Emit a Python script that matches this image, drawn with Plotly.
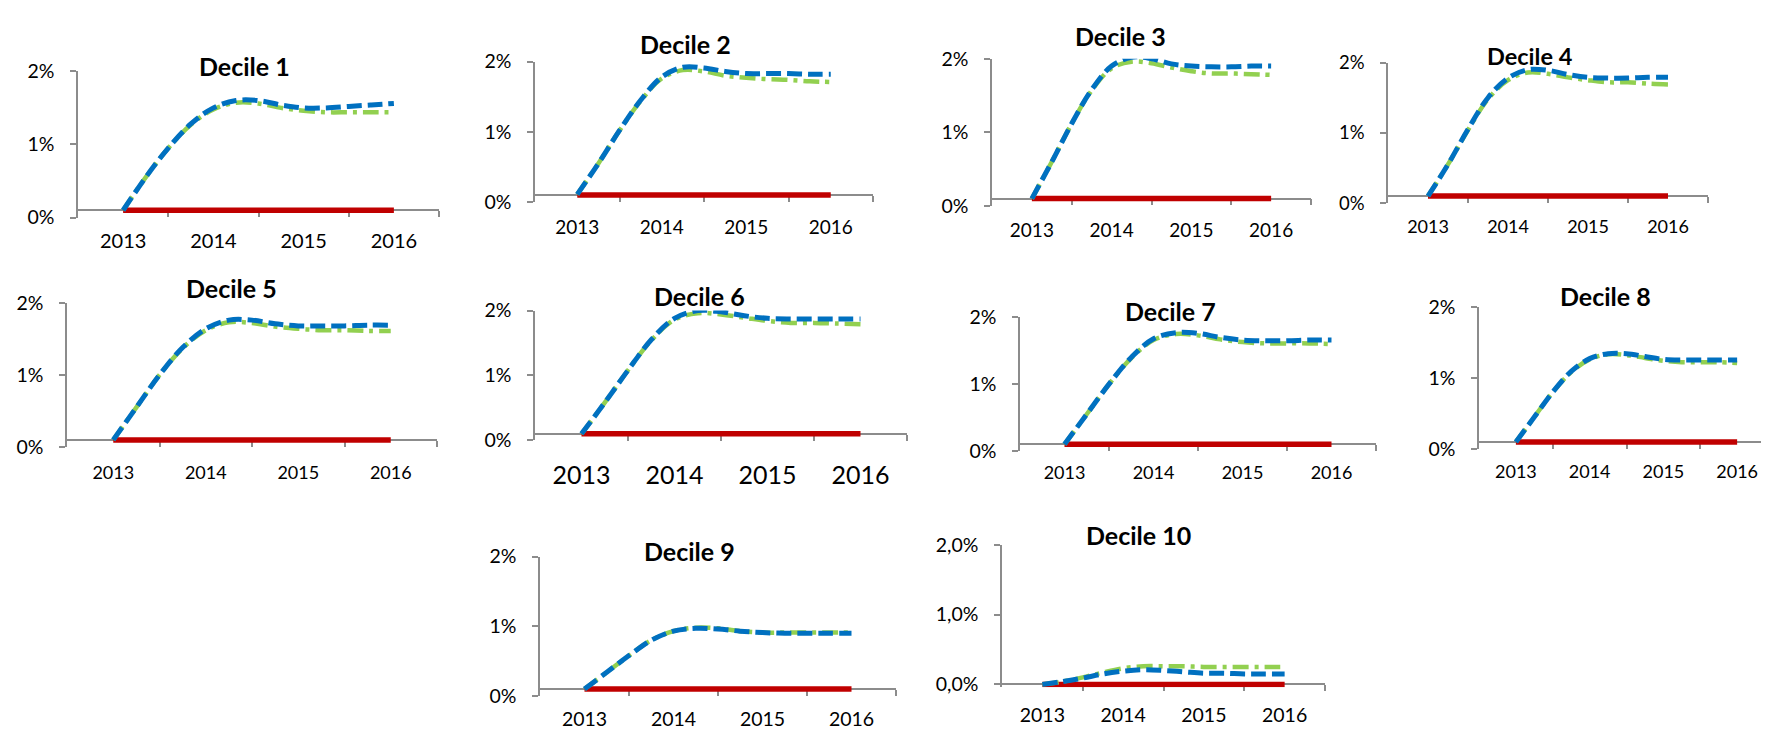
import plotly.graph_objects as go

# ---------------- data (values in %) ----------------
quarters = [2013.0, 2013.25, 2013.5, 2013.75, 2014.0, 2014.25, 2014.5,
            2014.75, 2015.0, 2015.25, 2015.5, 2015.75, 2016.0]
year_labels = ["2013", "2014", "2015", "2016"]
titles = ["Decile 1", "Decile 2", "Decile 3", "Decile 4", "Decile 5",
          "Decile 6", "Decile 7", "Decile 8", "Decile 9", "Decile 10"]

blue_d1 = [0.10, 0.55, 0.95, 1.28, 1.50, 1.60, 1.60, 1.54, 1.50, 1.50, 1.52, 1.54, 1.56]
blue_d2 = [0.11, 0.55, 1.02, 1.45, 1.78, 1.92, 1.91, 1.86, 1.83, 1.83, 1.83, 1.82, 1.82]
blue_d3 = [0.10, 0.60, 1.12, 1.58, 1.90, 2.02, 2.00, 1.93, 1.90, 1.89, 1.89, 1.90, 1.90]
blue_d4 = [0.10, 0.55, 1.05, 1.50, 1.78, 1.90, 1.89, 1.83, 1.79, 1.78, 1.78, 1.79, 1.79]
blue_d5 = [0.10, 0.55, 1.00, 1.38, 1.64, 1.76, 1.76, 1.71, 1.68, 1.68, 1.68, 1.69, 1.69]
blue_d6 = [0.10, 0.58, 1.08, 1.55, 1.88, 2.00, 1.98, 1.92, 1.88, 1.87, 1.87, 1.87, 1.87]
blue_d7 = [0.10, 0.55, 1.00, 1.40, 1.68, 1.77, 1.76, 1.70, 1.66, 1.65, 1.65, 1.66, 1.66]
blue_d8 = [0.10, 0.45, 0.80, 1.09, 1.27, 1.34, 1.34, 1.30, 1.26, 1.25, 1.25, 1.25, 1.25]
blue_d9 = [0.10, 0.34, 0.58, 0.80, 0.93, 0.97, 0.96, 0.93, 0.91, 0.90, 0.90, 0.90, 0.90]
blue_d10 = [0.00, 0.04, 0.09, 0.15, 0.19, 0.21, 0.20, 0.18, 0.16, 0.16, 0.15, 0.15, 0.15]

green_d1 = [0.10, 0.55, 0.95, 1.27, 1.48, 1.57, 1.56, 1.50, 1.46, 1.44, 1.44, 1.44, 1.44]
green_d2 = [0.11, 0.55, 1.02, 1.44, 1.76, 1.88, 1.86, 1.80, 1.77, 1.75, 1.74, 1.72, 1.71]
green_d3 = [0.10, 0.60, 1.12, 1.57, 1.87, 1.96, 1.94, 1.88, 1.83, 1.80, 1.80, 1.79, 1.78]
green_d4 = [0.10, 0.55, 1.04, 1.48, 1.75, 1.86, 1.84, 1.79, 1.75, 1.72, 1.72, 1.70, 1.69]
green_d5 = [0.10, 0.55, 1.00, 1.37, 1.62, 1.73, 1.72, 1.67, 1.64, 1.62, 1.62, 1.61, 1.61]
green_d6 = [0.10, 0.58, 1.08, 1.54, 1.86, 1.96, 1.94, 1.89, 1.84, 1.81, 1.81, 1.80, 1.79]
green_d7 = [0.10, 0.55, 1.00, 1.39, 1.66, 1.75, 1.73, 1.67, 1.63, 1.61, 1.61, 1.61, 1.60]
green_d8 = [0.10, 0.45, 0.80, 1.08, 1.26, 1.33, 1.32, 1.28, 1.24, 1.22, 1.22, 1.22, 1.21]
green_d9 = [0.10, 0.34, 0.58, 0.80, 0.93, 0.98, 0.97, 0.93, 0.91, 0.91, 0.91, 0.91, 0.91]
green_d10 = [0.00, 0.04, 0.10, 0.17, 0.23, 0.26, 0.26, 0.26, 0.25, 0.25, 0.25, 0.25, 0.25]

red_level = [0.10, 0.10, 0.10, 0.10, 0.10, 0.10, 0.10, 0.10, 0.10, 0.00]

y_ticks = [0, 1, 2]
y_labels_int = ["0%", "1%", "2%"]
y_labels_dec = ["0,0%", "1,0%", "2,0%"]

blues = [blue_d1, blue_d2, blue_d3, blue_d4, blue_d5, blue_d6, blue_d7, blue_d8, blue_d9, blue_d10]
greens = [green_d1, green_d2, green_d3, green_d4, green_d5, green_d6, green_d7, green_d8, green_d9, green_d10]

# ---------------- layout geometry (pixels) ----------------
W, H = 1769, 730
# left, right, top(2%), bottom(0%), title_x, title_y, label_y, year_font, ytick_font, title_font
geom = [
    (70, 431, 53, 204, 237, 48, 223, 20, 19.5, 25),
    (527, 865, 43, 188, 677, 25, 209, 19, 19.5, 25),
    (984, 1303, 40, 192, 1112, 17, 213, 19, 19.5, 25),
    (1380, 1700, 44, 189, 1522, 37, 210, 18, 18.5, 23.5),
    (59, 429, 292, 441, 223, 277, 463, 18, 19.5, 25),
    (527, 899, 300, 434, 691, 285, 463, 25, 19.5, 25),
    (1012, 1368, 307, 445, 1162, 300, 463, 18, 19.5, 25),
    (1471, 1766, 296, 443, 1597, 285, 463, 18, 19.5, 25),
    (532, 888, 554, 698, 681, 548, 718, 19.5, 19.5, 25),
    (994, 1317, 542, 686, 1130, 532, 713, 19.5, 19.5, 25),
]

AXIS = "#8C8C8C"
BLUE = "#0070C0"
GREEN = "#92D050"
RED = "#C00000"
FONT = "Lato"
Y_TOP = 2.0

fig = go.Figure()
annotations = []

for i in range(10):
    l, r, t, b, tx, ty, ly, yf, tf, ttf = geom[i]
    n = "" if i == 0 else str(i + 1)
    xa, ya = "x" + n, "y" + n
    red_vals = [red_level[i]] * len(quarters)

    fig.add_trace(go.Scatter(x=quarters, y=red_vals, mode="lines", xaxis=xa, yaxis=ya,
                             line=dict(color=RED, width=5.5), showlegend=False, hoverinfo="skip"))
    fig.add_trace(go.Scatter(x=quarters, y=greens[i], mode="lines", xaxis=xa, yaxis=ya,
                             line=dict(color=GREEN, width=4.5, shape="spline",
                                       dash="16px,6px,4px,6px"),
                             showlegend=False, hoverinfo="skip"))
    fig.add_trace(go.Scatter(x=quarters, y=blues[i], mode="lines", xaxis=xa, yaxis=ya,
                             line=dict(color=BLUE, width=5, shape="spline", dash="15px,6px"),
                             showlegend=False, hoverinfo="skip"))

    # small headroom below zero so a line at 0 is not clipped (keeps 0 at same pixel)
    y_bot = -0.04 if red_level[i] == 0 else 0.0
    px_per_unit = (b - t) / Y_TOP
    b_ext = b + (-y_bot) * px_per_unit

    y0 = 1 - b_ext / H
    y1 = 1 - t / H
    x0 = l / W
    x1 = r / W
    frac = (red_level[i] - y_bot) / (Y_TOP - y_bot)
    pos = y0 + frac * (y1 - y0)
    axis_px = b - red_level[i] * px_per_unit
    standoff = max(0, (ly - axis_px) - 0.55 * yf - 3)

    fig.layout["xaxis" + n] = dict(
        domain=[x0, x1], range=[2012.5, 2016.5], anchor="free", position=pos,
        tickmode="array", tickvals=[2013, 2014, 2015, 2016], ticktext=year_labels,
        ticks="", showgrid=False, zeroline=False, showline=True,
        linecolor=AXIS, linewidth=1.5, layer="below traces",
        tickfont=dict(family=FONT, size=yf, color="#000000"),
        ticklabelstandoff=int(round(standoff)),
        minor=dict(tickmode="array", tickvals=[2013.5, 2014.5, 2015.5, 2016.5],
                   ticks="outside", ticklen=6, tickwidth=1.5, tickcolor=AXIS, showgrid=False),
        fixedrange=True,
    )
    fig.layout["yaxis" + n] = dict(
        domain=[y0, y1], range=[y_bot, Y_TOP], anchor=xa, tickmode="array", tickvals=y_ticks,
        ticktext=(y_labels_dec if i == 9 else y_labels_int),
        ticks="outside", ticklen=6, tickwidth=1.5, tickcolor=AXIS,
        showgrid=False, zeroline=False, showline=True, linecolor=AXIS, linewidth=1.5,
        layer="below traces",
        tickfont=dict(family=FONT, size=tf, color="#000000"),
        ticklabelstandoff=12, fixedrange=True,
    )
    annotations.append(dict(text="<b>" + titles[i] + "</b>", x=tx / W, y=1 - ty / H,
                            xref="paper", yref="paper", xanchor="center", yanchor="middle",
                            showarrow=False,
                            font=dict(family=FONT, size=ttf, color="#000000")))

fig.update_layout(width=W, height=H, margin=dict(l=0, r=0, t=0, b=0),
                  paper_bgcolor="white", plot_bgcolor="white",
                  annotations=annotations, showlegend=False)

fig.write_html("out.html")
